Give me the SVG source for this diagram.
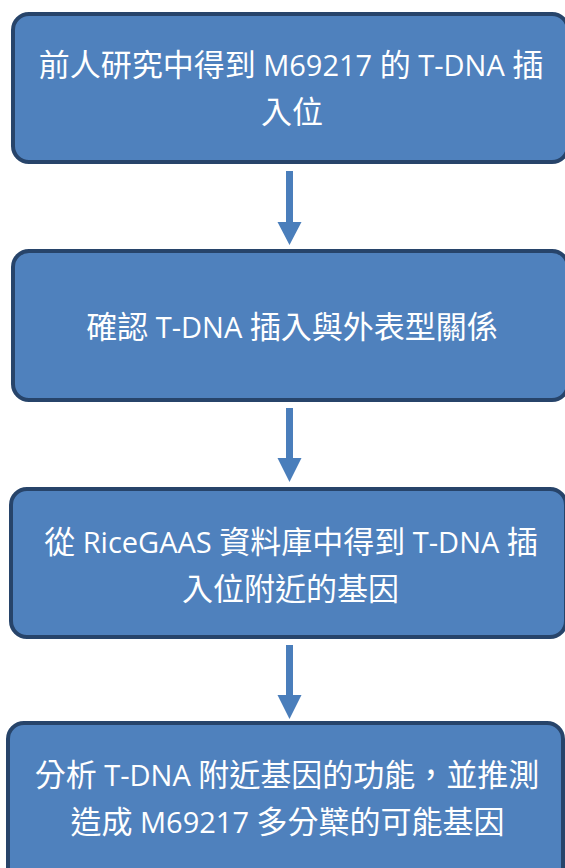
<svg xmlns="http://www.w3.org/2000/svg" width="565" height="868" viewBox="0 0 565 868">
<style>
.box{fill:#4F81BD;stroke:#27446A;stroke-width:4}
.arrow{fill:#4A7EBB}
.t{font-family:"Noto Sans CJK TC","Noto Sans CJK SC",sans-serif;font-size:31px;fill:#FFFFFF;text-anchor:middle}
.l{font-family:"Open Sans","Noto Sans",sans-serif;font-size:29px}
</style>
<rect width="565" height="868" fill="#FFFFFF"/>
<g id="connectors">
<polygon class="arrow" points="286,171 293,171 293,222 301.5,222 289.5,245 277.5,222 286,222"/>
<polygon class="arrow" points="286,408 293,408 293,458 301.5,458 289.5,482 277.5,458 286,458"/>
<polygon class="arrow" points="286,645 293,645 293,695 301.5,695 289.5,719 277.5,695 286,695"/>
</g>
<g id="node1">
<rect class="box" x="13" y="14" width="555" height="148" rx="16"/>
<text class="t" x="291" y="76">前人研究中得到<tspan class="l"> M69217 </tspan>的<tspan class="l"> T-DNA </tspan>插</text>
<text class="t" x="292" y="123">入位</text>
</g>
<g id="node2">
<rect class="box" x="13" y="251" width="555" height="149" rx="16"/>
<text class="t" x="292" y="338">確認<tspan class="l"> T-DNA </tspan>插入與外表型關係</text>
</g>
<g id="node3">
<rect class="box" x="11" y="489" width="555" height="148" rx="16"/>
<text class="t" x="291" y="553">從<tspan class="l"> RiceGAAS </tspan>資料庫中得到<tspan class="l"> T-DNA </tspan>插</text>
<text class="t" x="290.5" y="600">入位附近的基因</text>
</g>
<g id="node4">
<rect class="box" x="8" y="723" width="555" height="165" rx="16"/>
<text class="t" x="287" y="786">分析<tspan class="l"> T-DNA </tspan>附近基因的功能，並推測</text>
<text class="t" x="287.5" y="833">造成<tspan class="l"> M69217 </tspan>多分櫱的可能基因</text>
</g>
</svg>
